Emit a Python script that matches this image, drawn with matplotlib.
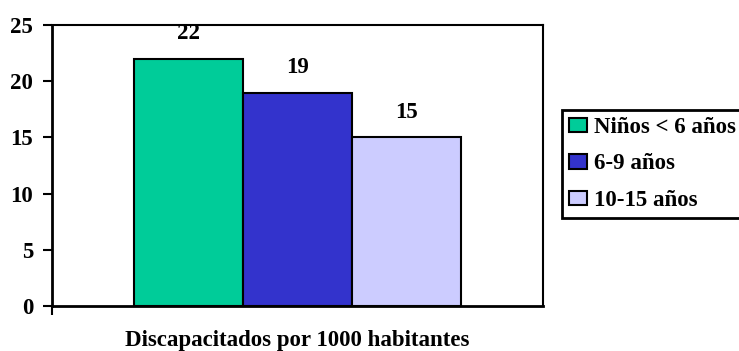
import matplotlib.pyplot as plt
import numpy as np

# ─── DATA ─────────────────────────────────────────────────────────────────────
groups = ['Niños < 6 años', '6-9 años', '10-15 años']
values = [22, 19, 15]
colors = ['#00CC99', '#3333CC', '#CCCCFF']
y_ticks = [0, 5, 10, 15, 20, 25]
x_title = 'Discapacitados por 1000 habitantes'

plt.rcParams['font.family'] = ['Liberation Serif', 'DejaVu Serif']
plt.rcParams['font.weight'] = 'bold'
FS = 16.5

fig = plt.figure(figsize=(7.39, 3.51), dpi=100)
ax = fig.add_axes([0.0704, 0.128, 0.6644, 0.8006])

pos = np.arange(len(values)) - 1
bars = ax.bar(pos, values, width=1.0, color=colors, edgecolor='black',
              linewidth=1.5, label=groups)
for b, v in zip(bars, values):
    ax.annotate(f'{v}', (b.get_x() + b.get_width() / 2, v),
                xytext=(0, 18), textcoords='offset points',
                ha='center', va='center', fontsize=FS, fontweight='bold')

half = 491 / 2 / 108.7
ax.set_xlim(-half, half)
ax.set_ylim(0, 25)
ax.set_yticks(y_ticks)
ax.set_yticklabels([str(t) for t in y_ticks], fontsize=FS, fontweight='bold')
ax.set_xticks([-half])
ax.set_xticklabels([''])
ax.tick_params(axis='both', direction='out', length=6.5, width=1.5, pad=7)
ax.set_xlabel(x_title, fontsize=FS, fontweight='bold', labelpad=4)

for s in ax.spines.values():
    s.set_linewidth(1.5)
ax.spines['left'].set_linewidth(2)
ax.spines['bottom'].set_linewidth(2)

leg = fig.legend(handles=bars, labels=groups, loc='upper left',
                 bbox_to_anchor=(562 / 739, 1 - 110 / 351),
                 prop={'size': FS, 'weight': 'bold'},
                 handlelength=0.8, handleheight=0.6, handletextpad=0.3,
                 labelspacing=0.68, borderpad=0.3, borderaxespad=0,
                 fancybox=False, framealpha=1, edgecolor='black')
leg.get_frame().set_linewidth(2)

fig.savefig('out.png', dpi=100)
